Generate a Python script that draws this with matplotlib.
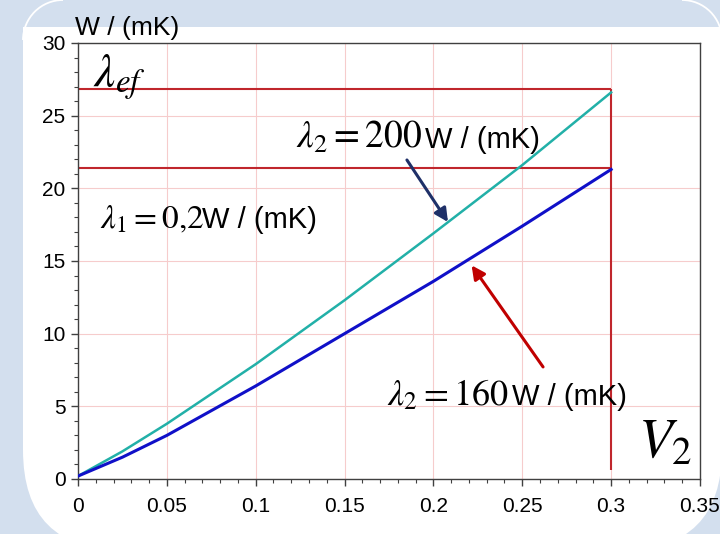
import matplotlib.pyplot as plt
from matplotlib.patches import FancyBboxPatch, Rectangle, Arc
from matplotlib.ticker import MultipleLocator

plt.rcParams['font.family'] = ['Liberation Sans', 'DejaVu Sans']
plt.rcParams['mathtext.fontset'] = 'stix'

# --- data ---
v2 = [0, 0.025, 0.05, 0.1, 0.15, 0.2, 0.25, 0.3]
lam_200 = [0.2, 1.9, 3.8, 7.9, 12.3, 16.9, 21.6, 26.6]   # lambda2 = 200 W/(mK)
lam_160 = [0.2, 1.5, 3.0, 6.4, 10.0, 13.6, 17.4, 21.3]   # lambda2 = 160 W/(mK)

v2_mark = 0.3
lam_ef = [26.8, 21.4]
v2_low = 0.6

x_ticks = [0, 0.05, 0.1, 0.15, 0.2, 0.25, 0.3, 0.35]
x_labels = ['0', '0.05', '0.1', '0.15', '0.2', '0.25', '0.3', '0.35']
y_ticks = [0, 5, 10, 15, 20, 25, 30]

bg_blue = '#d3dfee'
red = '#c0262c'

fig = plt.figure(figsize=(7.2, 5.34), dpi=100, facecolor=bg_blue)

# background panel (pixel coordinates)
bg = fig.add_axes([0, 0, 1, 1])
bg.set_xlim(0, 720)
bg.set_ylim(534, 0)
bg.axis('off')
bg.add_patch(FancyBboxPatch((23, -80), 699, 630,
                            boxstyle='round,pad=0,rounding_size=100',
                            fc='white', ec='none'))
bg.add_patch(Rectangle((0, -10), 720, 37, fc=bg_blue, ec='none'))
bg.add_patch(Arc((63, 40), 80, 80, theta1=180, theta2=270, color='white', lw=1.3))
bg.add_patch(Arc((682, 40), 80, 80, theta1=270, theta2=360, color='white', lw=1.3))

# main plot
ax = fig.add_axes([0.1083, 0.103, 0.8639, 0.8165])
ax.set_facecolor('white')
ax.set_xlim(0, 0.35)
ax.set_ylim(0, 30)
ax.set_xticks(x_ticks)
ax.set_xticklabels(x_labels)
ax.set_yticks(y_ticks)
ax.xaxis.set_minor_locator(MultipleLocator(0.01))
ax.yaxis.set_minor_locator(MultipleLocator(1))
ax.tick_params(which='major', direction='out', length=5, width=1,
               labelsize=15, color='#404040')
ax.tick_params(axis='x', which='major', pad=8)
ax.tick_params(axis='y', which='major', pad=4)
ax.tick_params(which='minor', direction='out', length=3, width=0.8, color='#404040')
for s in ax.spines.values():
    s.set_color('#404040')
    s.set_linewidth(1)
ax.grid(True, which='major', color='#f6cccc', lw=0.8)
ax.set_axisbelow(True)

ax.hlines(lam_ef, 0, v2_mark, color=red, lw=1.5, zorder=2)
ax.vlines(v2_mark, v2_low, max(lam_ef), color=red, lw=1.5, zorder=2)

ax.plot(v2, lam_200, color='#22b0a8', lw=1.8, zorder=3)
ax.plot(v2, lam_160, color='#1010c8', lw=2.2, zorder=3)

# labels
fig.text(75 / 720, 1 - 28 / 534, 'W / (mK)', fontsize=19, va='center', ha='left')
ax.text(0.0084, 26.97, r'$\lambda_{ef}$', fontsize=34, va='baseline')

ax.text(0.1227, 22.78, r'$\lambda_2 = 200$', fontsize=27, va='baseline')
ax.text(0.1953, 22.78, 'W / (mK)', fontsize=21, va='baseline')
ax.text(0.0124, 17.27, r'$\lambda_1 = 0{,}2$', fontsize=24, va='baseline')
ax.text(0.0698, 17.27, 'W / (mK)', fontsize=21, va='baseline')
ax.text(0.1739, 5.09, r'$\lambda_2 = 160$', fontsize=26, va='baseline')
ax.text(0.2442, 5.09, 'W / (mK)', fontsize=21, va='baseline')

ax.text(0.3151, 1.51, r'$V_2$', fontsize=40, va='baseline')

# arrows
ax.annotate('', xy=(0.2082, 17.68), xytext=(0.1851, 21.95),
            arrowprops=dict(arrowstyle='-|>', color='#1f3068', lw=2.2,
                            mutation_scale=20, shrinkA=0, shrinkB=0))
ax.annotate('', xy=(0.2215, 14.7), xytext=(0.2617, 7.71),
            arrowprops=dict(arrowstyle='-|>', color='#c00000', lw=2.2,
                            mutation_scale=20, shrinkA=0, shrinkB=0))

fig.savefig('out.png', dpi=100, facecolor=bg_blue)
